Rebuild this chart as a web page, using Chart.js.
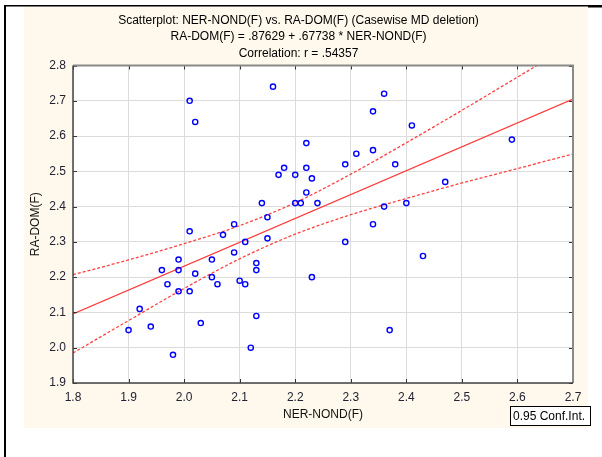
<!DOCTYPE html>
<html>
<head>
<meta charset="utf-8">
<script src="https://cdn.jsdelivr.net/npm/chart.js@4.4.1/dist/chart.umd.min.js"></script>
<style>
    html, body { margin: 0; padding: 0; background: #ffffff; }
    canvas { display: block; }
</style>
</head>
<body>
<canvas id="scatterChart" width="602" height="457"></canvas>
<script>
// values
const nerNond = [2.01, 2.02, 2.09, 2.16, 2.36, 2.34, 2.22, 2.31, 2.34, 2.29,
                 2.38, 2.18, 2.17, 2.20, 2.22, 2.23, 2.22, 2.14, 2.20, 2.21,
                 2.24, 2.15, 2.36, 2.34, 2.40, 2.41, 2.59, 2.47, 2.01, 2.07,
                 2.11, 2.09, 1.99, 2.05, 1.96, 1.99, 2.02, 1.97, 2.05, 2.06,
                 2.10, 2.11, 1.99, 2.01, 1.92, 1.94, 1.90, 2.03, 1.98, 2.15,
                 2.29, 2.13, 2.13, 2.23, 2.13, 2.12, 2.37, 2.43];
const raDom = [2.70, 2.64, 2.35, 2.74, 2.72, 2.67, 2.58, 2.55, 2.56, 2.52,
               2.52, 2.51, 2.49, 2.49, 2.51, 2.48, 2.44, 2.41, 2.41, 2.41,
               2.41, 2.37, 2.40, 2.35, 2.41, 2.63, 2.59, 2.47, 2.33, 2.32,
               2.30, 2.27, 2.25, 2.25, 2.22, 2.22, 2.21, 2.18, 2.20, 2.18,
               2.19, 2.18, 2.16, 2.16, 2.11, 2.06, 2.05, 2.07, 1.98, 2.31,
               2.30, 2.24, 2.22, 2.20, 2.09, 2.00, 2.05, 2.26];

// fitted line end points and the 0.95 confidence band
const fitX = [1.8, 2.7];
const fitY = [2.096, 2.705];
const bandX = [1.8, 1.9, 2.0, 2.1, 2.2, 2.3, 2.4, 2.5, 2.6, 2.7];
const bandUpper = [2.207, 2.249, 2.295, 2.346, 2.411, 2.492, 2.581, 2.673, 2.767, 2.861];
const bandLower = [1.985, 2.077, 2.168, 2.252, 2.322, 2.377, 2.423, 2.467, 2.508, 2.549];

const titleLines = [
    'Scatterplot: NER-NOND(F) vs. RA-DOM(F) (Casewise MD deletion)',
    'RA-DOM(F) = .87629 + .67738 * NER-NOND(F)',
    'Correlation: r = .54357'
];
const xLabel = 'NER-NOND(F)';
const yLabel = 'RA-DOM(F)';
const legendText = '0.95 Conf.Int.';

function toPoints(xs, ys) {
    return xs.map((x, i) => ({ x: x, y: ys[i] }));
}

Chart.defaults.font.family = '"Liberation Sans", Arial, sans-serif';
Chart.defaults.font.size = 12;

const framePlugin = {
    id: 'frame',
    beforeDraw(chart) {
        const ctx = chart.ctx;
        const a = chart.chartArea;
        ctx.save();
        ctx.fillStyle = '#ffffff';
        ctx.fillRect(0, 0, chart.width, chart.height);
        ctx.fillStyle = '#fef9ec';
        ctx.fillRect(24, 6, 564, 422);
        ctx.fillStyle = '#ffffff';
        ctx.fillRect(a.left, a.top, a.right - a.left, a.bottom - a.top);
        // black page frame
        ctx.fillStyle = '#000000';
        ctx.fillRect(4, 5, 584, 1.5);
        ctx.fillRect(588, 5, 14, 2.5);
        ctx.fillRect(4, 5, 2, chart.height - 5);
        ctx.restore();
    },
    afterDraw(chart) {
        const ctx = chart.ctx;
        const a = chart.chartArea;
        const xs = chart.scales.x;
        const ys = chart.scales.y;
        ctx.save();
        // inward tick marks on all four sides
        ctx.strokeStyle = '#333333';
        ctx.lineWidth = 1;
        ctx.beginPath();
        xs.ticks.forEach(t => {
            const px = Math.round(xs.getPixelForValue(t.value)) + 0.5;
            ctx.moveTo(px, a.bottom); ctx.lineTo(px, a.bottom - 4);
            ctx.moveTo(px, a.top); ctx.lineTo(px, a.top + 4);
        });
        ys.ticks.forEach(t => {
            const py = Math.round(ys.getPixelForValue(t.value)) + 0.5;
            ctx.moveTo(a.left, py); ctx.lineTo(a.left + 4, py);
            ctx.moveTo(a.right, py); ctx.lineTo(a.right - 4, py);
        });
        ctx.stroke();
        // plot border: grey top/right, dark left/bottom
        ctx.strokeStyle = '#8a8a8a';
        ctx.lineWidth = 2;
        ctx.beginPath();
        ctx.moveTo(a.left, a.top); ctx.lineTo(a.right, a.top); ctx.lineTo(a.right, a.bottom);
        ctx.stroke();
        ctx.strokeStyle = '#444444';
        ctx.lineWidth = 1.5;
        ctx.beginPath();
        ctx.moveTo(a.left, a.top); ctx.lineTo(a.left, a.bottom); ctx.lineTo(a.right, a.bottom);
        ctx.stroke();
        // legend box
        ctx.fillStyle = '#ffffff';
        ctx.fillRect(510, 406, 80, 19);
        ctx.strokeStyle = '#000000';
        ctx.lineWidth = 1;
        ctx.strokeRect(510.5, 406.5, 80, 19);
        ctx.fillStyle = '#000000';
        ctx.font = '12px "Liberation Sans", Arial, sans-serif';
        ctx.textBaseline = 'middle';
        ctx.textAlign = 'left';
        ctx.fillText(legendText, 513, 416.5);
        ctx.restore();
    }
};

const ctx = document.getElementById('scatterChart').getContext('2d');

const scatterChart = new Chart(ctx, {
    type: 'scatter',
    data: {
        datasets: [
            {
                label: 'cases',
                data: toPoints(nerNond, raDom),
                pointStyle: 'circle',
                pointRadius: 2.6,
                pointBorderWidth: 1.4,
                pointBorderColor: '#0000ff',
                pointBackgroundColor: 'rgba(0,0,0,0)'
            },
            {
                label: 'fit',
                data: toPoints(fitX, fitY),
                showLine: true,
                pointRadius: 0,
                borderColor: '#ff3b3b',
                borderWidth: 1.3
            },
            {
                label: 'upper',
                data: toPoints(bandX, bandUpper),
                showLine: true,
                pointRadius: 0,
                cubicInterpolationMode: 'monotone',
                borderColor: '#ff4040',
                borderWidth: 1.3,
                borderDash: [3, 2]
            },
            {
                label: 'lower',
                data: toPoints(bandX, bandLower),
                showLine: true,
                pointRadius: 0,
                cubicInterpolationMode: 'monotone',
                borderColor: '#ff4040',
                borderWidth: 1.3,
                borderDash: [3, 2]
            }
        ]
    },
    options: {
        responsive: false,
        animation: false,
        layout: {
            padding: { top: 6, left: 24, right: 29, bottom: 0 }
        },
        plugins: {
            legend: { display: false },
            tooltip: { enabled: false },
            title: {
                display: true,
                text: titleLines,
                color: '#000000',
                font: { size: 12, weight: 'normal', lineHeight: 1.375 },
                padding: { top: 6, bottom: 4 }
            }
        },
        scales: {
            x: {
                type: 'linear',
                min: 1.8,
                max: 2.7,
                afterFit(scale) { scale.height = 74; },
                ticks: {
                    stepSize: 0.1,
                    padding: 7,
                    color: '#222233',
                    maxRotation: 0,
                    callback: v => v.toFixed(1)
                },
                grid: { color: '#dcdcdc', lineWidth: 1, drawTicks: false },
                border: { display: false },
                title: {
                    display: true,
                    text: xLabel,
                    color: '#111111',
                    padding: { top: 4, bottom: 35 }
                }
            },
            y: {
                type: 'linear',
                min: 1.9,
                max: 2.8,
                afterFit(scale) { scale.width = 49; },
                ticks: {
                    stepSize: 0.1,
                    padding: 7,
                    color: '#222233',
                    callback: v => v.toFixed(1)
                },
                grid: { color: '#dcdcdc', lineWidth: 1, drawTicks: false },
                border: { display: false },
                title: {
                    display: true,
                    text: yLabel,
                    color: '#111111',
                    padding: { top: 4, bottom: 4 }
                }
            }
        }
    },
    plugins: [framePlugin]
});
</script>
</body>
</html>
